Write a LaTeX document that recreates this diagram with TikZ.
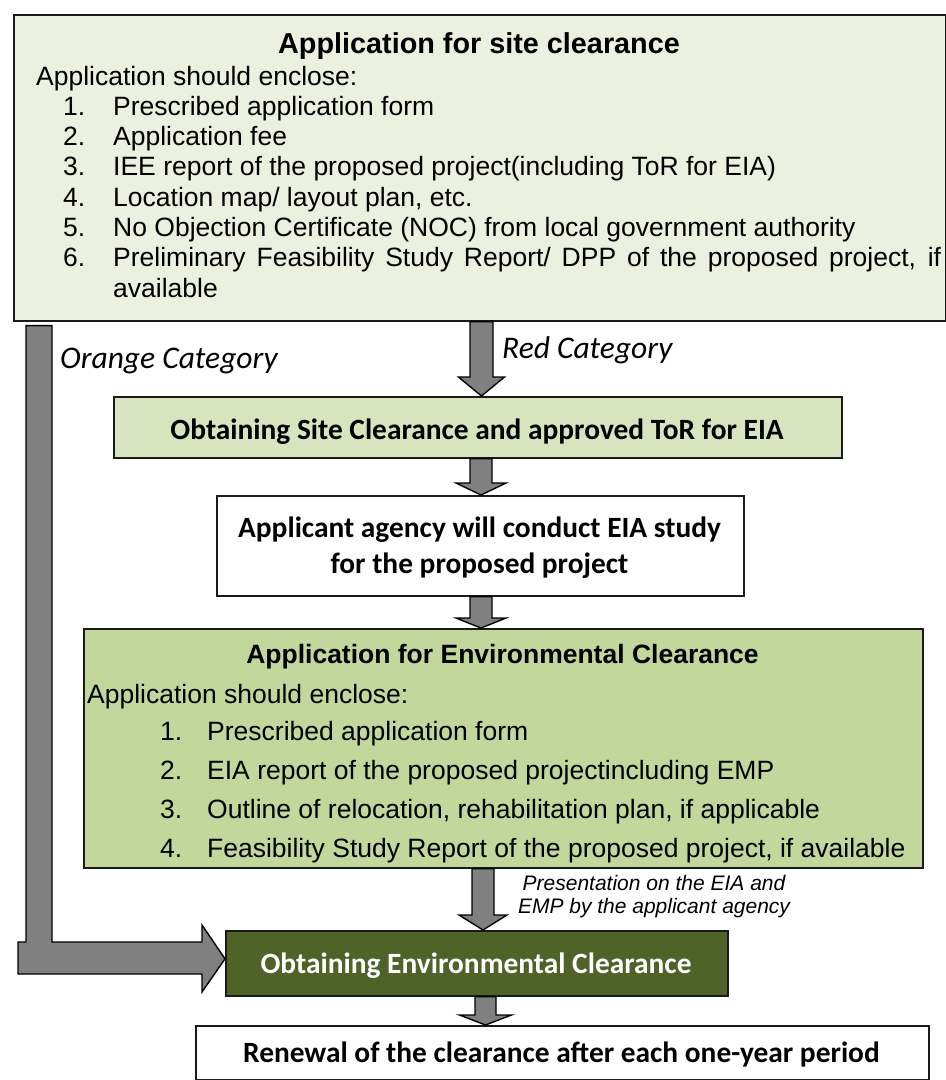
\documentclass[tikz,border=0pt]{standalone}
\usepackage{fontspec}
\setmainfont{Liberation Sans}
\newfontfamily\calibri{Carlito}
\usetikzlibrary{calc}

\definecolor{paleolive}{HTML}{EBF1DE}
\definecolor{lightolive}{HTML}{D7E4BD}
\definecolor{midolive}{HTML}{C3D69B}
\definecolor{darkolive}{HTML}{4F6228}
\definecolor{arrowgray}{HTML}{808080}
\definecolor{edge}{HTML}{1A1A1A}

% downward block arrow from the bottom of one node to the top of another
% #1 centre x, #2 upper node, #3 lower node, #4 shaft half-width,
% #5 head half-width, #6 head length
\newcommand\dropArrow[6]{%
  \path (#1,0 |- #2.south) coordinate (drop-top)
        (#1,0 |- #3.north) coordinate (drop-tip);
  \draw[blockarrow]
    ($(drop-top)+(-#4,0)$) -- ($(drop-tip)+(-#4,-#6)$) --
    ($(drop-tip)+(-#5,-#6)$) -- (drop-tip) --
    ($(drop-tip)+(#5,-#6)$) -- ($(drop-tip)+(#4,-#6)$) --
    ($(drop-top)+(#4,0)$) -- cycle;}

\begin{document}
\begin{tikzpicture}[x=1pt,y=-1pt,
  box/.style={draw=edge, line width=1.6pt, inner sep=0pt, anchor=north west},
  blockarrow/.style={draw=black, line width=1.4pt, fill=arrowgray, line join=miter},
  body/.style={inner sep=0pt, anchor=base west, font=\fontsize{26.5}{30}\selectfont},
  bodytitle/.style={inner sep=0pt, anchor=base, font=\bfseries\fontsize{28.8}{30}\selectfont},
  envtitle/.style={inner sep=0pt, anchor=base, font=\bfseries\fontsize{26.5}{30}\selectfont},
  stagetext/.style={inner sep=0pt, anchor=base, font=\calibri\bfseries\fontsize{29.4}{36}\selectfont},
  category/.style={inner sep=0pt, anchor=base west, font=\calibri\itshape\fontsize{31.5}{36}\selectfont},
  note/.style={inner sep=0pt, anchor=base, font=\itshape\fontsize{21}{24}\selectfont},
]
\useasboundingbox (0,0) rectangle (946,1080);

% ---------- boxes ----------
\node[box, fill=paleolive, minimum width=932pt, minimum height=306pt] (apply) at (13,14) {};
\node[box, fill=lightolive, minimum width=728pt, minimum height=61pt] (tor) at (113,396) {};
\node[box, fill=white, minimum width=527pt, minimum height=100pt] (eia) at (216,495) {};
\node[box, fill=midolive, minimum width=839pt, minimum height=239pt] (env) at (83,628) {};
\node[box, fill=darkolive, minimum width=502pt, minimum height=65pt] (ec) at (225,930) {};
\node[box, fill=white, minimum width=733pt, minimum height=54pt] (renew) at (195,1025) {};

% ---------- site clearance application ----------
\node[bodytitle] (apply-title) at (479,53) {Application for site clearance};
\node[body] (apply-lead) at (36,85) {Application should enclose:};
\node[body] (apply-n1) at (63,115) {1.};
\node[body] (apply-t1) at (113,115) {Prescribed application form};
\node[body] (apply-n2) at (63,145.3) {2.};
\node[body] (apply-t2) at (113,145.3) {Application fee};
\node[body] (apply-n3) at (63,175.6) {3.};
\node[body] (apply-t3) at (113,175.6) {IEE report of the proposed project(including ToR for EIA)};
\node[body] (apply-n4) at (63,206) {4.};
\node[body] (apply-t4) at (113,206) {Location map/ layout plan, etc.};
\node[body] (apply-n5) at (63,236.3) {5.};
\node[body] (apply-t5) at (113,236.3) {No Objection Certificate (NOC) from local government authority};
\node[body] (apply-n6) at (63,266.6) {6.};
\node[body] (apply-t6) at (113,266.6) {\makebox[828pt][s]{Preliminary Feasibility Study Report/ DPP of the proposed project, if}};
\node[body] (apply-t6b) at (113,297) {available};

% ---------- stage texts ----------
\node[stagetext] (tor-text) at (477,439) {Obtaining Site Clearance and approved ToR for EIA};
\node[stagetext] (eia-text1) at (479.5,537) {Applicant agency will conduct EIA study};
\node[stagetext] (eia-text2) at (479.5,573) {for the proposed project};

% ---------- environmental clearance application ----------
\node[envtitle] (env-title) at (502.5,663) {Application for Environmental Clearance};
\node[body] (env-lead) at (87,703) {Application should enclose:};
\node[body] (env-n1) at (160,740) {1.};
\node[body] (env-t1) at (207,740) {Prescribed application form};
\node[body] (env-n2) at (160,779) {2.};
\node[body] (env-t2) at (207,779) {EIA report of the proposed projectincluding EMP};
\node[body] (env-n3) at (160,818) {3.};
\node[body] (env-t3) at (207,818) {Outline of relocation, rehabilitation plan, if applicable};
\node[body] (env-n4) at (160,857) {4.};
\node[body] (env-t4) at (207,857) {Feasibility Study Report of the proposed project, if available};

\node[stagetext, text=white] (ec-text) at (476,973) {Obtaining Environmental Clearance};
\node[stagetext] (renew-text) at (561.5,1062) {Renewal of the clearance after each one-year period};

% ---------- flow arrows ----------
\dropArrow{481.5}{apply}{tor}{11.5}{23}{19}
\dropArrow{481}{tor}{eia}{11}{25}{12}
\dropArrow{481}{eia}{env}{11}{25}{10}
\dropArrow{483}{env}{ec}{11}{24}{15}
\dropArrow{485.5}{ec}{renew}{10.5}{26}{10}

% orange category bypass
\coordinate (orange-top) at ($(apply.south west)+(13,4)$);
\coordinate (orange-tip) at ($(ec.west)+(0,-4.5)$);
\draw[blockarrow]
  (orange-top) -- ++(26,0) -- (52,942) -- (202,942) -- (202,925) --
  (orange-tip) -- (202,992) -- (202,974) -- (18,974) -- (18,942) -- (26,942) -- cycle;

% ---------- category labels ----------
\node[category] (orange-label) at (60,368) {Orange Category};
\node[category] (red-label) at (502,358) {Red Category};
\node[note] (present1) at (654,890) {Presentation on the EIA and};
\node[note] (present2) at (654,913) {EMP by the applicant agency};
\end{tikzpicture}
\end{document}
